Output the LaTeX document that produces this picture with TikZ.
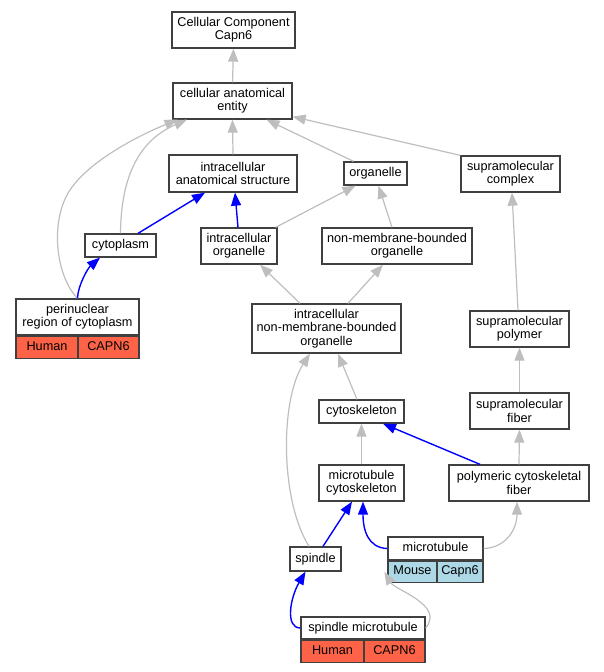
\documentclass[tikz,border=0pt]{standalone}
\usepackage{fontspec}
\setmainfont{Liberation Sans}
\usetikzlibrary{arrows.meta}
\definecolor{edgegray}{RGB}{190,190,190}
\definecolor{humancell}{RGB}{255,99,71}
\definecolor{mousecell}{RGB}{173,216,230}

\begin{document}
\begin{tikzpicture}[
        x=1pt, y=-1pt,
        font=\fontsize{12.7}{13.3}\selectfont,
        termnode/.style={
            draw=black!75, % Dark border of the term boxes
            line width=1.3pt,
            fill=white,
            align=center,
            inner sep=2pt,
            minimum height=23pt
        },
        oneline/.style={text height=9pt, text depth=2.7pt},
        twoline/.style={minimum height=36pt},
        threeline/.style={minimum height=49pt},
        speciescell/.style={
            draw=black!75,
            line width=1.3pt,
            inner sep=1pt,
            oneline,
            minimum height=22pt
        },
        isaedge/.style={
            draw=edgegray,
            line width=1.2pt,
            -{Triangle[length=13pt,width=10pt]}
        },
        partedge/.style={
            draw=blue,
            line width=1.4pt,
            -{Triangle[length=13pt,width=10pt]}
        }
    ]
\useasboundingbox (0,0) rectangle (604,672);

% Term boxes
\node[termnode, twoline, minimum width=123pt] (cc) at (233.5,30) {Cellular Component\\Capn6};
\node[termnode, twoline, minimum width=119pt] (cae) at (232.5,101) {cellular anatomical\\entity};
\node[termnode, twoline, minimum width=128pt, minimum height=37pt] (ias) at (233,173.5) {intracellular\\anatomical structure};
\node[termnode, oneline, minimum width=63pt] (organelle) at (375.5,173.5) {organelle};
\node[termnode, twoline, minimum width=99pt] (supcomplex) at (510.5,174) {supramolecular\\complex};
\node[termnode, oneline, minimum width=71pt] (cytoplasm) at (120.5,245.5) {cytoplasm};
\node[termnode, twoline, minimum width=76pt] (intraorg) at (239,246) {intracellular\\organelle};
\node[termnode, twoline, minimum width=150pt] (nmbo) at (397,246) {non-membrane-bounded\\organelle};
\node[termnode, threeline, minimum width=149pt] (inmbo) at (326.5,328.5) {intracellular\\non-membrane-bounded\\organelle};
\node[termnode, twoline, minimum width=99pt] (suppolymer) at (519.5,329) {supramolecular\\polymer};
\node[termnode, oneline, minimum width=85pt] (cytoskeleton) at (361.5,411.5) {cytoskeleton};
\node[termnode, twoline, minimum width=99pt] (supfiber) at (519.5,411) {supramolecular\\fiber};
\node[termnode, twoline, minimum width=85pt] (mtcyto) at (361.5,483) {microtubule\\cytoskeleton};
\node[termnode, twoline, minimum width=140pt] (pcfiber) at (519,483) {polymeric cytoskeletal\\fiber};
\node[termnode, oneline, minimum width=51pt, minimum height=24pt] (spindle) at (315.5,559) {spindle};

% Annotated terms with species and gene cells
\node[termnode, twoline, minimum width=123pt] (perinuclear) at (77.5,317) {perinuclear\\region of cytoplasm};
\node[speciescell, fill=humancell, minimum width=62pt, anchor=north west] (perinuclear-sp) at (perinuclear.south west) {Human};
\node[speciescell, fill=humancell, minimum width=61pt, anchor=north east] (perinuclear-gn) at (perinuclear.south east) {CAPN6};

\node[termnode, oneline, minimum width=95pt] (microtubule) at (435.5,548.5) {microtubule};
\node[speciescell, fill=mousecell, minimum width=49pt, minimum height=21pt, anchor=north west] (microtubule-sp) at (microtubule.south west) {Mouse};
\node[speciescell, fill=mousecell, minimum width=46pt, minimum height=21pt, anchor=north east] (microtubule-gn) at (microtubule.south east) {Capn6};

\node[termnode, oneline, minimum width=124pt, minimum height=22pt] (spindlemt) at (363,628) {spindle microtubule};
\node[speciescell, fill=humancell, minimum width=63pt, anchor=north west] (spindlemt-sp) at (spindlemt.south west) {Human};
\node[speciescell, fill=humancell, minimum width=61pt, anchor=north east] (spindlemt-gn) at (spindlemt.south east) {CAPN6};

% Grey is-a edges
\draw[isaedge] (cae.north) -- (cc.south);
\draw[isaedge] (ias.north) -- (cae.south);
\draw[isaedge] ([xshift=-22pt]organelle.north) -- ([xshift=34pt]cae.south);
\draw[isaedge] (supcomplex.north west) -- ([yshift=3pt]cae.south east);
\draw[isaedge] (cytoplasm.north) .. controls (121,175) and (140,140) .. ([xshift=-45.5pt]cae.south);
\draw[isaedge] (perinuclear.north) .. controls (55,275) and (50,220) .. (70,190)
    .. controls (90,160) and (140,135) .. ([xshift=-55pt]cae.south);
\draw[isaedge] ([xshift=-2pt]intraorg.north east) -- ([xshift=-20pt]organelle.south);
\draw[isaedge] ([xshift=-5pt]nmbo.north) -- ([xshift=3pt]organelle.south);
\draw[isaedge] ([xshift=-26.5pt]inmbo.north) -- ([xshift=21pt]intraorg.south);
\draw[isaedge] ([xshift=21.5pt]inmbo.north) -- ([xshift=-14pt]nmbo.south);
\draw[isaedge] ([xshift=-4.5pt]cytoskeleton.north) -- ([xshift=11.5pt]inmbo.south);
\draw[isaedge] ([xshift=-6.5pt]spindle.north) .. controls (280,500) and (280,400) .. ([xshift=-16.5pt]inmbo.south);
\draw[isaedge] ([xshift=-1.5pt]suppolymer.north) -- ([xshift=1.5pt]supcomplex.south);
\draw[isaedge] (supfiber.north) -- (suppolymer.south);
\draw[isaedge] (pcfiber.north) -- (supfiber.south);
\draw[isaedge] (mtcyto.north) -- (cytoskeleton.south);
\draw[isaedge] (microtubule.east) .. controls (505,548) and (517,530) .. ([xshift=-2pt]pcfiber.south);
\draw[isaedge] (spindlemt.east) .. controls (445,605) and (395,590) .. ([xshift=-3pt]microtubule-sp.west);

% Blue part-of edges
\draw[partedge] ([xshift=17.5pt]cytoplasm.north) -- ([xshift=-28pt]ias.south);
\draw[partedge] ([xshift=-1pt]intraorg.north) -- ([xshift=2pt]ias.south);
\draw[partedge] (perinuclear.north) .. controls (78,285) and (88,268) .. ([xshift=-20.5pt]cytoplasm.south);
\draw[partedge] ([xshift=-39pt]pcfiber.north) -- ([xshift=21.5pt]cytoskeleton.south);
\draw[partedge] ([xshift=7.5pt]spindle.north) -- ([xshift=-9.5pt]mtcyto.south);
\draw[partedge] (microtubule.west) .. controls (368,548) and (363,530) .. ([xshift=1.5pt]mtcyto.south);
\draw[partedge] (spindlemt.west) .. controls (285,628) and (290,598) .. ([xshift=-10pt]spindle.south);

\end{tikzpicture}
\end{document}
